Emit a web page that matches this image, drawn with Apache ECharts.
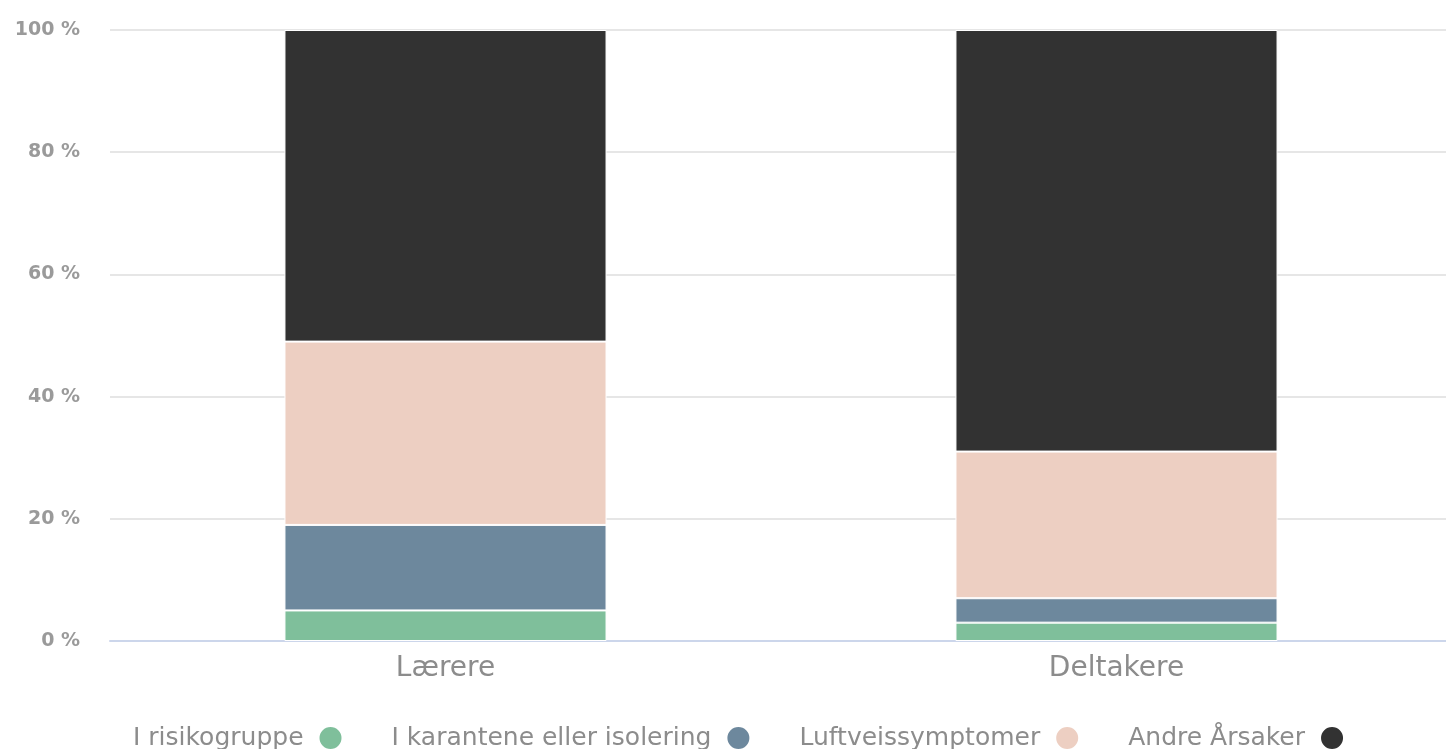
<!DOCTYPE html>
<html>
<head>
<meta charset="utf-8">
<script src="https://cdn.jsdelivr.net/npm/echarts@6/dist/echarts.min.js"></script>
<style>
  html, body { margin: 0; padding: 0; background: #fff; overflow: hidden; }
  #main { width: 1452px; height: 749px; }
</style>
</head>
<body>
<div id="main"></div>
<script>
// kategorier og verdier (prosent)
const categories = ['Lærere', 'Deltakere']
const risikogruppe = [5, 3]
const karantene = [14, 4]
const luftvei = [30, 24]
const andre = [51, 69]
const yTicks = [0, 20, 40, 60, 80, 100]

const chart = echarts.init(document.getElementById('main'))

const font = 'DejaVu Sans'
const seriesDef = [
    ['I risikogruppe', risikogruppe, '#7fbf9b'],
    ['I karantene eller isolering', karantene, '#6d889d'],
    ['Luftveissymptomer', luftvei, '#edcfc2'],
    ['Andre Årsaker', andre, '#323232'],
]

const option = {
    animation: false,
    grid: {
        left: 110,
        right: 0,
        top: 30,
        bottom: 108,
    },
    legend: {
        bottom: -7,
        left: 128,
        align: 'right',
        icon: 'circle',
        itemWidth: 24,
        itemHeight: 24,
        itemGap: 48,
        textStyle: {
            fontFamily: font,
            fontSize: 25,
            color: '#8c8c8c',
            padding: [0, 10, 0, 0],
        },
        data: seriesDef.map((s) => s[0]),
    },
    xAxis: {
        type: 'category',
        data: categories,
        axisLine: { lineStyle: { color: '#ccd6eb', width: 2 } },
        axisTick: { show: false },
        axisLabel: {
            fontFamily: font,
            fontSize: 28,
            color: '#8c8c8c',
            margin: 14,
        },
    },
    yAxis: {
        type: 'value',
        min: yTicks[0],
        max: yTicks[yTicks.length - 1],
        interval: 20,
        axisLabel: {
            fontFamily: font,
            fontSize: 19,
            fontWeight: 'bold',
            color: '#9a9a9a',
            margin: 30,
            formatter: '{value} %',
        },
        splitLine: { lineStyle: { color: '#e6e6e6', width: 2 } },
    },
    series: seriesDef.map((s) => ({
        name: s[0],
        type: 'bar',
        stack: 'total',
        barWidth: '48%',
        data: s[1],
        itemStyle: {
            color: s[2],
            borderColor: '#ffffff',
            borderWidth: 1,
        },
    })),
}

chart.setOption(option)
</script>
</body>
</html>
